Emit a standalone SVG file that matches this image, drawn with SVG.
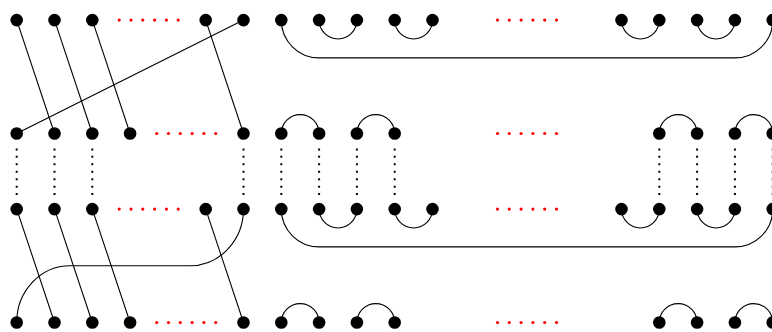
<svg xmlns="http://www.w3.org/2000/svg" width="772" height="332" viewBox="0 0 772 332">
<style>
.n{fill:#000}
.e{fill:none;stroke:#000;stroke-width:1.1}
.d{fill:none;stroke:#000;stroke-width:2;stroke-dasharray:2 5.45}
.r{fill:#f00}
</style>
<rect width="772" height="332" fill="#fff"/>
<g id="connectors">
<!-- top left crossings -->
<line class="e" x1="16.7" y1="20.1" x2="54.5" y2="133.5"/>
<line class="e" x1="54.5" y1="20.1" x2="92.3" y2="133.5"/>
<line class="e" x1="92.3" y1="20.1" x2="130.1" y2="133.5"/>
<line class="e" x1="205.7" y1="20.1" x2="243.5" y2="133.5"/>
<line class="e" x1="243.5" y1="20.1" x2="16.7" y2="133.5"/>
<!-- bottom left crossings -->
<line class="e" x1="16.7" y1="209.1" x2="54.5" y2="322.5"/>
<line class="e" x1="54.5" y1="209.1" x2="92.3" y2="322.5"/>
<line class="e" x1="92.3" y1="209.1" x2="130.1" y2="322.5"/>
<line class="e" x1="205.7" y1="209.1" x2="243.5" y2="322.5"/>
<path class="e" d="M243.5,209.1 C243.5,240.4 219.5,265.8 190,265.8 L70,265.8 C40.6,265.8 16.7,291.2 16.7,322.5"/>
<!-- row1 right -->
<path class="e" d="M281.3,20.1 C281.3,41 298.2,57.9 319.1,57.9 L734.9,57.9 C755.8,57.9 772.7,41 772.7,20.1"/>
<path class="e" d="M319.1,20.1 A18.9,18.9 0 0 0 356.9,20.1"/>
<path class="e" d="M394.7,20.1 A18.9,18.9 0 0 0 432.5,20.1"/>
<path class="e" d="M621.5,20.1 A18.9,18.9 0 0 0 659.3,20.1"/>
<path class="e" d="M697.1,20.1 A18.9,18.9 0 0 0 734.9,20.1"/>
<!-- row2 right -->
<path class="e" d="M281.3,133.5 A18.9,18.9 0 0 1 319.1,133.5"/>
<path class="e" d="M356.9,133.5 A18.9,18.9 0 0 1 394.7,133.5"/>
<path class="e" d="M659.3,133.5 A18.9,18.9 0 0 1 697.1,133.5"/>
<path class="e" d="M734.9,133.5 A18.9,18.9 0 0 1 772.7,133.5"/>
<!-- row3 right -->
<path class="e" d="M281.3,209.1 C281.3,230 298.2,246.9 319.1,246.9 L734.9,246.9 C755.8,246.9 772.7,230 772.7,209.1"/>
<path class="e" d="M319.1,209.1 A18.9,18.9 0 0 0 356.9,209.1"/>
<path class="e" d="M394.7,209.1 A18.9,18.9 0 0 0 432.5,209.1"/>
<path class="e" d="M621.5,209.1 A18.9,18.9 0 0 0 659.3,209.1"/>
<path class="e" d="M697.1,209.1 A18.9,18.9 0 0 0 734.9,209.1"/>
<!-- row4 right -->
<path class="e" d="M281.3,322.5 A18.9,18.9 0 0 1 319.1,322.5"/>
<path class="e" d="M356.9,322.5 A18.9,18.9 0 0 1 394.7,322.5"/>
<path class="e" d="M659.3,322.5 A18.9,18.9 0 0 1 697.1,322.5"/>
<path class="e" d="M734.9,322.5 A18.9,18.9 0 0 1 772.7,322.5"/>
<!-- dotted verticals -->
<line class="d" x1="16.7" y1="148.4" x2="16.7" y2="196"/>
<line class="d" x1="54.5" y1="148.4" x2="54.5" y2="196"/>
<line class="d" x1="92.3" y1="148.4" x2="92.3" y2="196"/>
<line class="d" x1="243.5" y1="148.4" x2="243.5" y2="196"/>
<line class="d" x1="281.3" y1="148.4" x2="281.3" y2="196"/>
<line class="d" x1="319.1" y1="148.4" x2="319.1" y2="196"/>
<line class="d" x1="356.9" y1="148.4" x2="356.9" y2="196"/>
<line class="d" x1="394.7" y1="148.4" x2="394.7" y2="196"/>
<line class="d" x1="659.3" y1="148.4" x2="659.3" y2="196"/>
<line class="d" x1="697.1" y1="148.4" x2="697.1" y2="196"/>
<line class="d" x1="734.9" y1="148.4" x2="734.9" y2="196"/>
<line class="d" x1="772.7" y1="148.4" x2="772.7" y2="196"/>
</g>
<g id="ellipses">
<g id="dots-r1-left" transform="translate(148.7,20.1)"><circle class="r" cx="-29.5" r="1.6"/><circle class="r" cx="-17.7" r="1.6"/><circle class="r" cx="-5.9" r="1.6"/><circle class="r" cx="5.9" r="1.6"/><circle class="r" cx="17.7" r="1.6"/><circle class="r" cx="29.5" r="1.6"/></g>
<g id="dots-r2-left" transform="translate(186.2,133.5)"><circle class="r" cx="-29.5" r="1.6"/><circle class="r" cx="-17.7" r="1.6"/><circle class="r" cx="-5.9" r="1.6"/><circle class="r" cx="5.9" r="1.6"/><circle class="r" cx="17.7" r="1.6"/><circle class="r" cx="29.5" r="1.6"/></g>
<g id="dots-r3-left" transform="translate(148.7,209.1)"><circle class="r" cx="-29.5" r="1.6"/><circle class="r" cx="-17.7" r="1.6"/><circle class="r" cx="-5.9" r="1.6"/><circle class="r" cx="5.9" r="1.6"/><circle class="r" cx="17.7" r="1.6"/><circle class="r" cx="29.5" r="1.6"/></g>
<g id="dots-r4-left" transform="translate(186.2,322.5)"><circle class="r" cx="-29.5" r="1.6"/><circle class="r" cx="-17.7" r="1.6"/><circle class="r" cx="-5.9" r="1.6"/><circle class="r" cx="5.9" r="1.6"/><circle class="r" cx="17.7" r="1.6"/><circle class="r" cx="29.5" r="1.6"/></g>
<g id="dots-r1-mid" transform="translate(527,20.1)"><circle class="r" cx="-29.5" r="1.6"/><circle class="r" cx="-17.7" r="1.6"/><circle class="r" cx="-5.9" r="1.6"/><circle class="r" cx="5.9" r="1.6"/><circle class="r" cx="17.7" r="1.6"/><circle class="r" cx="29.5" r="1.6"/></g>
<g id="dots-r2-mid" transform="translate(527,133.5)"><circle class="r" cx="-29.5" r="1.6"/><circle class="r" cx="-17.7" r="1.6"/><circle class="r" cx="-5.9" r="1.6"/><circle class="r" cx="5.9" r="1.6"/><circle class="r" cx="17.7" r="1.6"/><circle class="r" cx="29.5" r="1.6"/></g>
<g id="dots-r3-mid" transform="translate(527,209.1)"><circle class="r" cx="-29.5" r="1.6"/><circle class="r" cx="-17.7" r="1.6"/><circle class="r" cx="-5.9" r="1.6"/><circle class="r" cx="5.9" r="1.6"/><circle class="r" cx="17.7" r="1.6"/><circle class="r" cx="29.5" r="1.6"/></g>
<g id="dots-r4-mid" transform="translate(527,322.5)"><circle class="r" cx="-29.5" r="1.6"/><circle class="r" cx="-17.7" r="1.6"/><circle class="r" cx="-5.9" r="1.6"/><circle class="r" cx="5.9" r="1.6"/><circle class="r" cx="17.7" r="1.6"/><circle class="r" cx="29.5" r="1.6"/></g>
</g>
<!-- row 1 nodes -->
<g id="r1n0"><circle class="n" cx="16.7" cy="20.1" r="6.3"/></g>
<g id="r1n1"><circle class="n" cx="54.5" cy="20.1" r="6.3"/></g>
<g id="r1n2"><circle class="n" cx="92.3" cy="20.1" r="6.3"/></g>
<g id="r1n5"><circle class="n" cx="205.7" cy="20.1" r="6.3"/></g>
<g id="r1n6"><circle class="n" cx="243.5" cy="20.1" r="6.3"/></g>
<g id="r1n7"><circle class="n" cx="281.3" cy="20.1" r="6.3"/></g>
<g id="r1n8"><circle class="n" cx="319.1" cy="20.1" r="6.3"/></g>
<g id="r1n9"><circle class="n" cx="356.9" cy="20.1" r="6.3"/></g>
<g id="r1n10"><circle class="n" cx="394.7" cy="20.1" r="6.3"/></g>
<g id="r1n11"><circle class="n" cx="432.5" cy="20.1" r="6.3"/></g>
<g id="r1n16"><circle class="n" cx="621.5" cy="20.1" r="6.3"/></g>
<g id="r1n17"><circle class="n" cx="659.3" cy="20.1" r="6.3"/></g>
<g id="r1n18"><circle class="n" cx="697.1" cy="20.1" r="6.3"/></g>
<g id="r1n19"><circle class="n" cx="734.9" cy="20.1" r="6.3"/></g>
<g id="r1n20"><circle class="n" cx="772.7" cy="20.1" r="6.3"/></g>
<!-- row 2 nodes -->
<g id="r2n0"><circle class="n" cx="16.7" cy="133.5" r="6.3"/></g>
<g id="r2n1"><circle class="n" cx="54.5" cy="133.5" r="6.3"/></g>
<g id="r2n2"><circle class="n" cx="92.3" cy="133.5" r="6.3"/></g>
<g id="r2n3"><circle class="n" cx="130.1" cy="133.5" r="6.3"/></g>
<g id="r2n6"><circle class="n" cx="243.5" cy="133.5" r="6.3"/></g>
<g id="r2n7"><circle class="n" cx="281.3" cy="133.5" r="6.3"/></g>
<g id="r2n8"><circle class="n" cx="319.1" cy="133.5" r="6.3"/></g>
<g id="r2n9"><circle class="n" cx="356.9" cy="133.5" r="6.3"/></g>
<g id="r2n10"><circle class="n" cx="394.7" cy="133.5" r="6.3"/></g>
<g id="r2n17"><circle class="n" cx="659.3" cy="133.5" r="6.3"/></g>
<g id="r2n18"><circle class="n" cx="697.1" cy="133.5" r="6.3"/></g>
<g id="r2n19"><circle class="n" cx="734.9" cy="133.5" r="6.3"/></g>
<g id="r2n20"><circle class="n" cx="772.7" cy="133.5" r="6.3"/></g>
<!-- row 3 nodes -->
<g id="r3n0"><circle class="n" cx="16.7" cy="209.1" r="6.3"/></g>
<g id="r3n1"><circle class="n" cx="54.5" cy="209.1" r="6.3"/></g>
<g id="r3n2"><circle class="n" cx="92.3" cy="209.1" r="6.3"/></g>
<g id="r3n5"><circle class="n" cx="205.7" cy="209.1" r="6.3"/></g>
<g id="r3n6"><circle class="n" cx="243.5" cy="209.1" r="6.3"/></g>
<g id="r3n7"><circle class="n" cx="281.3" cy="209.1" r="6.3"/></g>
<g id="r3n8"><circle class="n" cx="319.1" cy="209.1" r="6.3"/></g>
<g id="r3n9"><circle class="n" cx="356.9" cy="209.1" r="6.3"/></g>
<g id="r3n10"><circle class="n" cx="394.7" cy="209.1" r="6.3"/></g>
<g id="r3n11"><circle class="n" cx="432.5" cy="209.1" r="6.3"/></g>
<g id="r3n16"><circle class="n" cx="621.5" cy="209.1" r="6.3"/></g>
<g id="r3n17"><circle class="n" cx="659.3" cy="209.1" r="6.3"/></g>
<g id="r3n18"><circle class="n" cx="697.1" cy="209.1" r="6.3"/></g>
<g id="r3n19"><circle class="n" cx="734.9" cy="209.1" r="6.3"/></g>
<g id="r3n20"><circle class="n" cx="772.7" cy="209.1" r="6.3"/></g>
<!-- row 4 nodes -->
<g id="r4n0"><circle class="n" cx="16.7" cy="322.5" r="6.3"/></g>
<g id="r4n1"><circle class="n" cx="54.5" cy="322.5" r="6.3"/></g>
<g id="r4n2"><circle class="n" cx="92.3" cy="322.5" r="6.3"/></g>
<g id="r4n3"><circle class="n" cx="130.1" cy="322.5" r="6.3"/></g>
<g id="r4n6"><circle class="n" cx="243.5" cy="322.5" r="6.3"/></g>
<g id="r4n7"><circle class="n" cx="281.3" cy="322.5" r="6.3"/></g>
<g id="r4n8"><circle class="n" cx="319.1" cy="322.5" r="6.3"/></g>
<g id="r4n9"><circle class="n" cx="356.9" cy="322.5" r="6.3"/></g>
<g id="r4n10"><circle class="n" cx="394.7" cy="322.5" r="6.3"/></g>
<g id="r4n17"><circle class="n" cx="659.3" cy="322.5" r="6.3"/></g>
<g id="r4n18"><circle class="n" cx="697.1" cy="322.5" r="6.3"/></g>
<g id="r4n19"><circle class="n" cx="734.9" cy="322.5" r="6.3"/></g>
<g id="r4n20"><circle class="n" cx="772.7" cy="322.5" r="6.3"/></g>
</svg>
